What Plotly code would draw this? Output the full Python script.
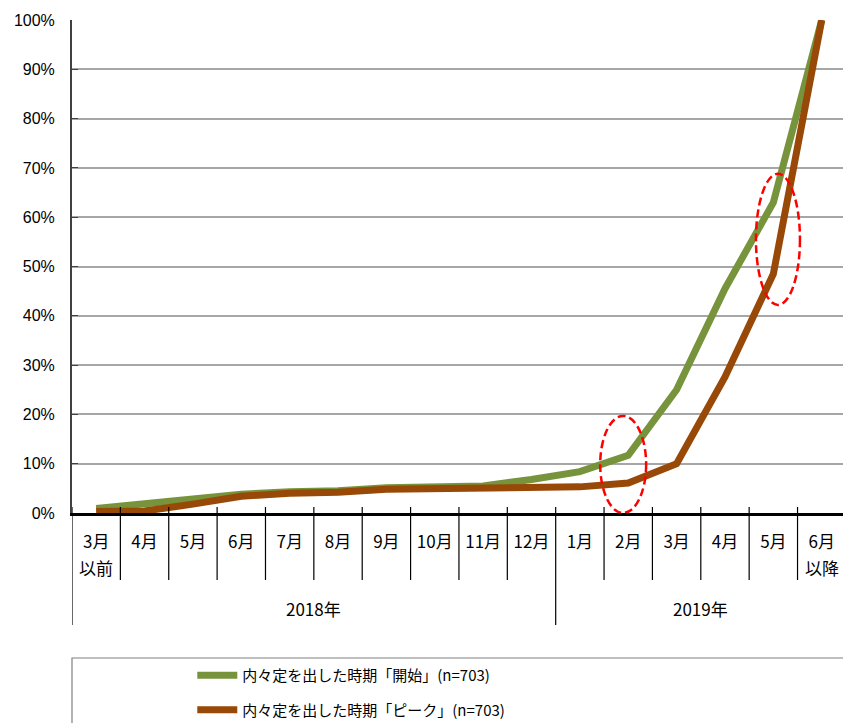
import plotly.graph_objects as go

# Month columns (first line of each label) and the second line where present
month_labels = ["3月", "4月", "5月", "6月", "7月", "8月", "9月", "10月", "11月", "12月",
                "1月", "2月", "3月", "4月", "5月", "6月"]
second_lines = {0: "以前", 15: "以降"}
positions = list(range(len(month_labels)))

# Year groups: label, first and last column index
years = ["2018年", "2019年"]
year_first = [0, 10]
year_last = [9, 15]

# Cumulative share (%)
series_names = ["内々定を出した時期「開始」(n=703)", "内々定を出した時期「ピーク」(n=703)"]
start_pct = [0.9, 1.9, 2.6, 3.8, 4.3, 4.5, 5.1, 5.3, 5.5, 6.8, 8.4, 11.7, 25.0, 45.5, 63.0, 100.0]
peak_pct = [0.3, 0.4, 1.8, 3.4, 4.0, 4.2, 4.8, 5.0, 5.2, 5.3, 5.3, 6.1, 10.0, 27.6, 48.5, 100.0]
series_colors = ["#77933C", "#984807"]

# Highlight ellipses: (x0, x1, y0, y1) in axis units
highlights = [(10.42, 11.37, 0.0, 19.7), (13.64, 14.55, 42.2, 68.8)]

CJK = "Noto Sans CJK JP, sans-serif"

fig = go.Figure()
for name, vals, col, grp in zip(series_names, [start_pct, peak_pct], series_colors, ["a", "b"]):
    fig.add_trace(go.Scatter(
        x=positions, y=vals, name=name, mode="lines",
        line=dict(color=col, width=7), legendgroup=grp,
    ))

shapes = []
# column separators below the axis
plot_h = 493.0
sep_short = -67 / plot_h
sep_long = -112 / plot_h
sep_top = 6 / plot_h
group_bounds = set([f - 0.5 for f in year_first])
for k in range(len(month_labels) + 1):
    xb = k - 0.5
    y_end = sep_long if xb in group_bounds else sep_short
    shapes.append(dict(type="line", xref="x", yref="paper", x0=xb, x1=xb,
                       y0=sep_top, y1=y_end, line=dict(color="#000000", width=1.2),
                       layer="above"))

for (x0, x1, y0, y1) in highlights:
    shapes.append(dict(type="circle", xref="x", yref="y", x0=x0, x1=x1, y0=y0, y1=y1,
                       line=dict(color="#FF0000", width=2.5, dash="8px,4px"), layer="above"))

# legend frame
shapes.append(dict(type="rect", xref="paper", yref="paper", x0=0, x1=1.05,
                   y0=-145 / plot_h, y1=-0.5, line=dict(color="#808080", width=1.2),
                   fillcolor="rgba(0,0,0,0)"))

annotations = []
for idx, txt in second_lines.items():
    annotations.append(dict(x=idx, y=-54 / plot_h, xref="x", yref="paper", text=txt,
                            showarrow=False, yanchor="middle",
                            font=dict(family=CJK, size=17, color="#000000")))
for label, f, l in zip(years, year_first, year_last):
    annotations.append(dict(x=(f + l) / 2, y=-95 / plot_h, xref="x", yref="paper", text=label,
                            showarrow=False, yanchor="middle",
                            font=dict(family=CJK, size=17, color="#000000")))

fig.update_layout(
    width=843, height=723,
    margin=dict(l=72, r=0, t=20, b=210, autoexpand=False),
    plot_bgcolor="#FFFFFF", paper_bgcolor="#FFFFFF",
    showlegend=True,
    legend=dict(x=0.156, xanchor="left", y=-146 / plot_h, yanchor="top",
                traceorder="grouped", tracegroupgap=12, itemwidth=40,
                font=dict(family=CJK, size=15, color="#000000"),
                bgcolor="rgba(0,0,0,0)"),
    shapes=shapes,
    annotations=annotations,
    xaxis=dict(range=[-0.5, 15.44], tickvals=positions, ticktext=month_labels,
               showgrid=False, zeroline=False, showline=True, linecolor="#000000",
               linewidth=2.5, ticks="", ticklabelstandoff=12,
               tickfont=dict(family=CJK, size=17, color="#000000")),
    yaxis=dict(range=[0, 100], tickvals=list(range(0, 101, 10)),
               ticktext=[f"{v}%" for v in range(0, 101, 10)],
               showgrid=True, gridcolor="#A6A6A6", gridwidth=1.5,
               zeroline=False, showline=True, linecolor="#404040", linewidth=2,
               ticks="inside", ticklen=6, tickcolor="#404040", ticklabelstandoff=12,
               tickfont=dict(family="Liberation Sans, Arial, sans-serif", size=16,
                             color="#000000")),
)

fig.write_html("out.html")
